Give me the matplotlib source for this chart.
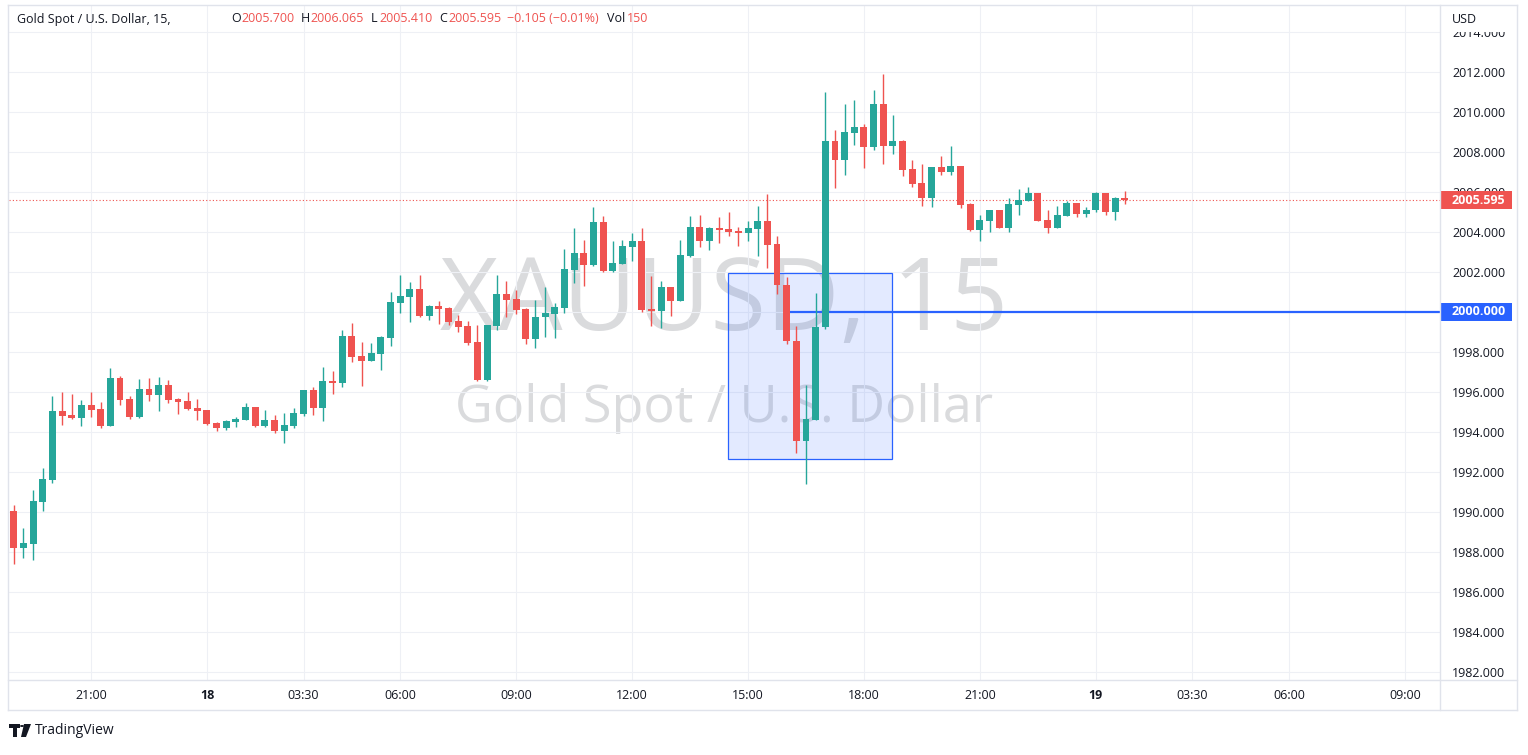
import matplotlib
matplotlib.use("Agg")
import matplotlib.pyplot as plt
import matplotlib.transforms as mtransforms
from matplotlib.patches import Rectangle, Polygon
from matplotlib.lines import Line2D

W, H = 1528, 755

# ---- data (15 min candles, XAUUSD) ----
opens = [1990.03, 1988.20, 1988.40, 1990.50, 1991.60, 1995.03, 1994.83, 1994.70, 1995.33, 1995.13,
         1994.30, 1996.68, 1995.63, 1994.75, 1996.13, 1995.85, 1996.33, 1995.63, 1995.53, 1995.18,
         1995.08, 1994.43, 1994.20, 1994.50, 1994.60, 1995.23, 1994.30, 1994.58, 1994.05, 1994.30,
         1994.90, 1996.08, 1995.20, 1996.53, 1996.45, 1998.78, 1997.78, 1997.55, 1997.90, 1998.70,
         2000.43, 2000.73, 2001.13, 1999.78, 2000.28, 2000.18, 1999.53, 1999.28, 1998.48, 1996.58,
         1999.30, 2000.88, 2000.63, 2000.13, 1998.65, 1999.73, 1999.90, 2000.18, 2002.10, 2002.93,
         2002.35, 2004.48, 2002.03, 2002.40, 2003.25, 2003.53, 2000.15, 2000.05, 2001.23, 2000.55,
         2002.78, 2004.23, 2003.53, 2004.18, 2004.13, 2004.03, 2003.93, 2004.13, 2004.53, 2003.40,
         2001.35, 1998.55, 1993.52, 1994.60, 1999.22, 2008.55, 2007.62, 2008.97, 2009.25, 2008.27,
         2010.40, 2008.32, 2008.55, 2007.15, 2006.45, 2005.72, 2007.25, 2007.02, 2007.30, 2005.40,
         2004.10, 2004.55, 2005.10, 2004.22, 2005.35, 2005.57, 2005.95, 2004.60, 2004.22, 2004.82,
         2005.45, 2004.92, 2005.10, 2005.95, 2005.02, 2005.700]
highs = [1990.33, 1989.18, 1991.08, 1992.18, 1995.78, 1995.98, 1995.90, 1995.58, 1996.00, 1995.48,
         1997.18, 1996.80, 1995.78, 1996.63, 1996.68, 1996.73, 1996.58, 1995.68, 1996.00, 1995.63,
         1995.08, 1994.48, 1994.58, 1994.73, 1995.43, 1995.23, 1995.08, 1994.83, 1994.93, 1995.18,
         1996.08, 1996.23, 1997.23, 1997.03, 1999.08, 1999.43, 1998.48, 1998.43, 1998.78, 2000.98,
         2001.83, 2001.48, 2001.83, 2000.33, 2000.53, 2000.23, 1999.83, 1999.55, 1999.33, 1999.33,
         2001.83, 2001.53, 2001.08, 2000.18, 2000.58, 2001.23, 2000.43, 2003.13, 2004.18, 2003.58,
         2005.23, 2004.78, 2003.53, 2003.58, 2003.93, 2004.18, 2001.78, 2001.53, 2001.23, 2003.58,
         2004.78, 2004.83, 2004.23, 2004.73, 2004.98, 2004.23, 2004.53, 2005.28, 2005.88, 2003.80,
         2001.75, 1999.27, 1996.35, 2000.95, 2011.00, 2009.10, 2010.40, 2010.60, 2009.40, 2011.10,
         2011.90, 2009.85, 2008.60, 2007.60, 2007.40, 2007.25, 2007.80, 2008.30, 2007.30, 2005.45,
         2004.85, 2005.10, 2005.10, 2005.70, 2006.15, 2006.25, 2005.95, 2005.10, 2005.30, 2005.55,
         2005.45, 2005.25, 2006.00, 2005.95, 2005.75, 2006.065]
lows = [1987.40, 1987.70, 1987.60, 1990.05, 1991.45, 1994.35, 1994.65, 1994.30, 1994.75, 1994.20,
        1994.30, 1995.35, 1994.65, 1994.70, 1995.55, 1995.05, 1995.45, 1994.90, 1995.10, 1994.60,
        1994.35, 1994.05, 1994.10, 1994.25, 1994.60, 1994.25, 1994.25, 1993.95, 1993.45, 1994.20,
        1994.80, 1994.83, 1994.53, 1995.90, 1996.25, 1997.50, 1996.30, 1997.55, 1997.10, 1998.30,
        1999.95, 1999.50, 1999.73, 1999.60, 1999.40, 1999.35, 1999.00, 1998.35, 1996.53, 1996.53,
        1999.10, 1999.73, 1999.88, 1998.40, 1998.20, 1998.75, 1998.70, 1999.95, 2001.45, 2001.30,
        2002.30, 2002.00, 2002.00, 2002.40, 2002.53, 2000.00, 1999.30, 1999.20, 1999.80, 2000.55,
        2002.73, 2003.23, 2003.08, 2003.43, 2003.78, 2003.30, 2003.53, 2002.80, 2002.20, 2000.87,
        1998.37, 1992.92, 1991.37, 1994.60, 1999.12, 2006.22, 2006.87, 2008.37, 2007.22, 2008.12,
        2007.42, 2007.92, 2006.82, 2006.27, 2005.32, 2005.27, 2006.87, 2006.87, 2005.22, 2004.02,
        2003.52, 2003.97, 2004.22, 2003.97, 2004.85, 2005.57, 2004.57, 2003.92, 2004.22, 2004.82,
        2004.77, 2004.77, 2005.02, 2004.87, 2004.62, 2005.410]
closes = [1988.20, 1988.43, 1990.53, 1991.63, 1995.03, 1994.80, 1994.68, 1995.33, 1995.10, 1994.30,
          1996.68, 1995.60, 1994.75, 1996.13, 1995.85, 1996.33, 1995.60, 1995.50, 1995.15, 1995.05,
          1994.40, 1994.20, 1994.53, 1994.65, 1995.23, 1994.30, 1994.58, 1994.05, 1994.33, 1994.93,
          1996.08, 1995.20, 1996.53, 1996.45, 1998.78, 1997.75, 1997.55, 1997.93, 1998.73, 2000.48,
          2000.78, 2001.13, 1999.78, 2000.28, 2000.13, 1999.50, 1999.25, 1998.45, 1996.58, 1999.33,
          2000.88, 2000.58, 2000.08, 1998.65, 1999.73, 1999.92, 2000.23, 2002.13, 2002.93, 2002.35,
          2004.48, 2002.03, 2002.43, 2003.28, 2003.53, 2000.10, 2000.05, 2001.23, 2000.55, 2002.83,
          2004.23, 2003.53, 2004.18, 2004.08, 2003.98, 2003.93, 2004.18, 2004.53, 2003.35, 2001.32,
          1998.52, 1993.52, 1994.65, 1999.25, 2008.55, 2007.62, 2009.00, 2009.25, 2008.27, 2010.40,
          2008.32, 2008.55, 2007.12, 2006.42, 2005.72, 2007.25, 2007.02, 2007.30, 2005.37, 2004.10,
          2004.60, 2005.10, 2004.22, 2005.40, 2005.60, 2005.95, 2004.57, 2004.22, 2004.85, 2005.45,
          2004.92, 2005.10, 2005.95, 2005.02, 2005.70, 2005.595]

time_tick_pos = [8, 20, 30, 40, 52, 64, 76, 88, 100, 112, 122, 132, 144]
time_tick_labels = ["21:00", "18", "03:30", "06:00", "09:00", "12:00", "15:00",
                    "18:00", "21:00", "19", "03:30", "06:00", "09:00"]
price_ticks = list(range(1982, 2015, 2))

last_price = 2005.595
level_price = 2000.0
level_start = 80.3
box_x = (73.9, 90.9)
box_y = (1992.62, 2001.94)

UP = "#26a69a"
DOWN = "#ef5350"
BLUE = "#2962ff"
TXT = "#131722"
GRID = "#eef0f5"
BORDER = "#e0e3eb"

plt.rcParams["font.family"] = ["Open Sans", "DejaVu Sans"]

fig = plt.figure(figsize=(W / 100, H / 100), dpi=100)
fig.patch.set_facecolor("white")


def fx(x):
    return x / W


def fy(y):
    return 1 - y / H


ax = fig.add_axes([fx(9), fy(680), (1440 - 9) / W, (680 - 5) / H])
ax.set_facecolor("white")
ax.set_xlim(-0.49, 147.62)
ax.set_ylim(1981.585, 2015.35)
for s in ax.spines.values():
    s.set_visible(False)

# grid + ticks
ax.set_yticks(price_ticks)
ax.set_yticklabels([f"{p:.3f}" for p in price_ticks])
ax.set_xticks(time_tick_pos)
ax.set_xticklabels(time_tick_labels)
ax.grid(True, color=GRID, lw=0.8, zorder=0)
ax.set_axisbelow(True)
ax.yaxis.tick_right()
ax.tick_params(axis="y", length=0, pad=8.6, labelsize=9, labelcolor=TXT)
ax.tick_params(axis="x", length=0, pad=6.5, labelsize=9, labelcolor=TXT)
for lbl in ax.get_xticklabels():
    if lbl.get_text() in ("18", "19"):
        lbl.set_fontweight("bold")

# watermark
wm = mtransforms.blended_transform_factory(ax.transAxes, fig.transFigure)
ax.text(0.5, fy(330), "XAUUSD, 15", transform=wm, ha="center", va="baseline",
        fontsize=73, color="#dadbdd", zorder=0.5)
ax.text(0.5, fy(421.7), "Gold Spot / U.S. Dollar", transform=wm, ha="center", va="baseline",
        fontsize=37.5, color="#dadbdd", zorder=0.5)

# blue rectangle drawing
ax.add_patch(Rectangle((box_x[0], box_y[0]), box_x[1] - box_x[0], box_y[1] - box_y[0],
                       facecolor=BLUE, alpha=0.13, edgecolor="none", zorder=1))
ax.add_patch(Rectangle((box_x[0], box_y[0]), box_x[1] - box_x[0], box_y[1] - box_y[0],
                       facecolor="none", edgecolor=BLUE, lw=0.9, zorder=1.1))

# horizontal ray at 2000
ax.plot([level_start, 147.62], [level_price, level_price], color=BLUE, lw=1.6, zorder=1.5,
        solid_capstyle="butt")

# last price dotted line
ax.axhline(last_price, color=DOWN, lw=0.8, ls=(0, (1, 2)), zorder=1.6)

# candles
idx = list(range(len(opens)))
colors = [UP if c >= o else DOWN for o, c in zip(opens, closes)]
bottoms = [min(o, c) for o, c in zip(opens, closes)]
heights = [max(abs(c - o), 0.06) for o, c in zip(opens, closes)]
ax.vlines(idx, lows, highs, colors=colors, lw=1.0, zorder=3)
ax.bar(idx, heights, bottom=bottoms, width=0.72, color=colors, edgecolor="none", zorder=4)

# price axis labels
bt = mtransforms.blended_transform_factory(ax.transAxes, ax.transData)
lab_w = (1512 - 1440) / (1440 - 9)
for price, col in ((last_price, DOWN), (level_price, BLUE)):
    ax.add_patch(Rectangle((1.0, price - 0.46), lab_w, 0.92, transform=bt, facecolor=col,
                           edgecolor="none", clip_on=False, zorder=10))
    ax.text((1452 - 9) / (1440 - 9), price, f"{price:.3f}", transform=bt, color="white",
            fontsize=9, fontweight="bold", va="center", ha="left", clip_on=False, zorder=11)

# cover top of price axis + USD
fig.add_artist(Rectangle((fx(1441), fy(31.5)), (1516 - 1441) / W, 26.5 / H, transform=fig.transFigure,
                         facecolor="white", edgecolor="none", zorder=5))
fig.text(fx(1452), fy(19.5), "USD", fontsize=9, color=TXT, va="center", ha="left", zorder=6)

# frame lines
frame = [((8, 1517), (5, 5)), ((8, 1517), (710, 710)), ((8, 8), (5, 710)), ((1517, 1517), (5, 710)),
         ((1440, 1440), (5, 710)), ((8, 1517), (680, 680))]
for xs, ys in frame:
    fig.add_artist(Line2D([fx(xs[0]), fx(xs[1])], [fy(ys[0]), fy(ys[1])], transform=fig.transFigure,
                          color=BORDER, lw=1.0, zorder=7))

# header legend
hy = fy(19)
fig.text(fx(17), hy, "Gold Spot / U.S. Dollar, 15,", fontsize=9, color=TXT, va="center", zorder=8)
parts = [(231, "O", TXT), (241, "2005.700", DOWN), (301, "H", TXT), (310, "2006.065", DOWN),
         (371, "L", TXT), (379, "2005.410", DOWN), (439, "C", TXT), (448, "2005.595", DOWN),
         (507, "\u22120.105 (\u22120.01%)", DOWN), (607, "Vol", TXT), (627, "150", DOWN)]
for x, s, c in parts:
    fig.text(fx(x), hy, s, fontsize=9, color=c, va="center", zorder=8)

# TradingView logo
logo = [
    [(9, 724), (20, 724), (20, 728), (17, 728), (17, 737), (13, 737), (13, 728), (9, 728)],
    [(24, 724), (31, 724), (26, 737), (21, 737)],
]
for poly in logo:
    fig.add_artist(Polygon([(fx(a), fy(b)) for a, b in poly], closed=True, transform=fig.transFigure,
                           facecolor=TXT, edgecolor="none"))
fig.add_artist(plt.Circle((fx(22), fy(726)), 2.0 / W, transform=fig.transFigure, facecolor=TXT))
fig.text(fx(35), fy(731), "TradingView", fontsize=10, color=TXT, va="center")

fig.savefig("out.png", dpi=100, facecolor="white")
